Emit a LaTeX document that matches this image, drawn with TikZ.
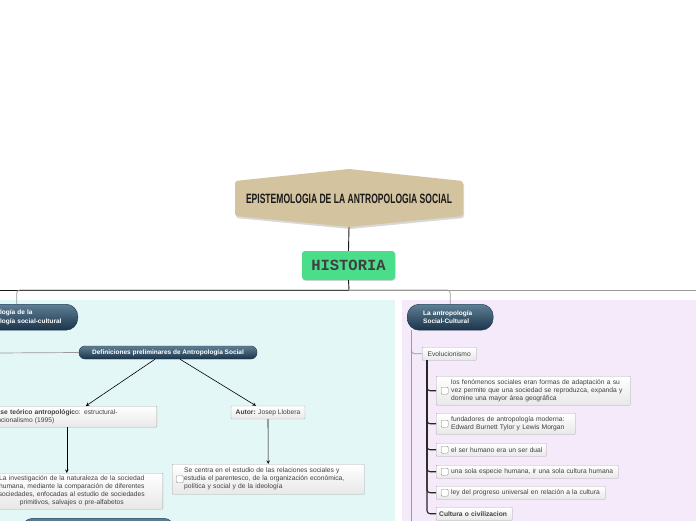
\documentclass[tikz,border=0pt]{standalone}
\usepackage{fontspec}
\setsansfont{Liberation Sans}
\setmonofont{Liberation Mono}
\usetikzlibrary{positioning,calc,shadows}

\definecolor{panelcian}{HTML}{E4F7F7}
\definecolor{panellila}{HTML}{F5EAF9}
\definecolor{arena}{HTML}{D4C39F}
\definecolor{verde}{HTML}{4ADE8B}
\definecolor{pilarriba}{HTML}{5F7F95}
\definecolor{pilabajo}{HTML}{1A344B}

\tikzset{
  pildora/.style={rounded corners=#1, top color=pilarriba, bottom color=pilabajo,
    draw=pilabajo, text=white, inner ysep=0pt,
    font=\sffamily\bfseries\fontsize{6.5}{8.5}\selectfont},
  pildora/.default=12,
  tarjeta/.style={draw=black!35, top color=white, bottom color=black!9,
    text=black!75, font=\sffamily\fontsize{6.7}{8}\selectfont,
    inner xsep=3pt, inner ysep=2pt, align=left, rounded corners=0.6pt},
  casilla/.style={execute at begin node={\leftskip=#1}},
  casilla/.default=12pt,
  caja/.style={draw=black!45, fill=white, rounded corners=1pt,
    minimum size=7pt, inner sep=0pt},
  titulo/.style={font=\sffamily\bfseries\fontsize{13.5}{15}\selectfont,
    text=black!90, inner sep=0pt},
  historia/.style={rounded corners=3, fill=verde, minimum width=93,
    minimum height=29, text=black!75,
    font=\ttfamily\bfseries\fontsize{15.5}{16}\selectfont,
    drop shadow={shadow xshift=.6pt, shadow yshift=-.8pt, opacity=.3}},
  linea/.style={draw=black!90, line width=0.9pt},
  ramagris/.style={draw=black!40, line width=0.7pt},
  ramanegra/.style={draw=black!85, line width=1.1pt},
  flecha/.style={->, draw=black, line width=0.6pt}
}

\begin{document}
\begin{tikzpicture}[x=1pt,y=-1pt,>=stealth]
  \useasboundingbox (0,0) rectangle (696,520);
  \clip (0,0) rectangle (696,520);
  \fill[white] (0,0) rectangle (696,520);

  % Paneles de fondo
  \fill[panelcian] (0,300) rectangle (395,525);
  \fill[panellila] (402,300) rectangle (700,525);

  % Titulo (hexagono)
  \fill[black!30, opacity=.5, rounded corners=2] (236,183) -- (350,171) -- (464,183)
    -- (464,218) -- (350,229) -- (236,218) -- cycle;
  \fill[arena, rounded corners=2] (235,181) -- (349,169) -- (463,181)
    -- (463,216) -- (349,227) -- (235,216) -- cycle;
  \node[titulo] (tit) at (349,198.5)
    {\resizebox{206pt}{\height}{EPISTEMOLOGIA DE LA ANTROPOLOGIA SOCIAL}};
  \coordinate (titbase) at (349,227);

  \node[historia] (hist) at (348.5,265.5) {HISTORIA};
  \draw[linea] (titbase) -- (hist.north);

  % Linea principal
  \coordinate (bus) at (349,290);
  \coordinate (busizq) at (-5,290);
  \coordinate (busder) at (701,290);
  \draw[linea] (hist.south) -- (bus);

  % Ramas principales
  \node[pildora, anchor=north east, minimum height=26, text width=87,
    inner xsep=16pt, align=left] (antrop) at (78,304)
    {Antropología de la\\Antropología social-cultural};
  \node[pildora, anchor=north west, minimum height=26, text width=54,
    inner xsep=16pt, align=left] (antsoc) at (407,304)
    {La antropología\\Social-Cultural};
  \draw[linea] (bus) -- (busizq);
  \draw[ramagris] (bus) -- (busder);
  \draw[ramagris, rounded corners=3] (bus) -| ([xshift=-1.5pt]antrop.north);
  \draw[ramagris, rounded corners=3] (bus) -| (antsoc.north);

  % Lado izquierdo
  \node[pildora=6, minimum width=178, minimum height=13] (defs) at (168,352.5)
    {Definiciones preliminares de Antropología Social};
  \coordinate (defizq) at (-5,353);
  \draw[ramagris] (defizq) -- (defs.west);

  \node[tarjeta, anchor=north east, text width=162, minimum height=21] (base) at (157,406)
    {\textbf{Base teórico antropológic}o: estructural-\\funcionalismo (1995)};
  \node[tarjeta, anchor=north east, text width=176, align=center, minimum height=36]
    (invest) at (163,473)
    {La investigación de la naturaleza de la sociedad\\humana, mediante la comparación de diferentes\\sociedades, enfocadas al estudio de sociedades\\primitivos, salvajes o pre-alfabetos};
  \node[pildora, anchor=north west, minimum width=154, minimum height=26] (abajo) at (21,518) {};

  \node[tarjeta, align=center, minimum width=74, minimum height=13] (autor) at (268,412.5)
    {\textbf{Autor:} Josep Llobera};
  \node[tarjeta, casilla=9pt, anchor=north west, text width=186, minimum height=30]
    (centra) at (172,464)
    {Se centra en el estudio de las relaciones sociales y\\estudia el parentesco, de la organización económica,\\política y social y de la ideología};
  \node[caja, right=4pt of centra.west] (c0) {};

  \draw[flecha] ([xshift=-13pt]defs.south) -- ([xshift=13pt]base.north);
  \draw[flecha] ([xshift=12pt]defs.south) -- ([xshift=-12pt]autor.north);
  \draw[flecha] ([xshift=-6pt]base.south) -- ([xshift=-5pt]invest.north);
  \draw[flecha] (autor) -- (centra);

  % Lado derecho
  \coordinate (tronco) at (411.5,330);
  \coordinate (tronfin) at (411.5,525);
  \draw[ramagris] (tronco) -- (tronfin);
  \node[tarjeta, anchor=north west, minimum width=54, minimum height=13] (evol) at (422,347)
    {Evolucionismo};
  \draw[ramagris, rounded corners=3] (tronco) |- (evol.west);

  \node[tarjeta, casilla, anchor=north west, text width=188, minimum height=29] (f1) at (436,376)
    {los fenómenos sociales eran formas de adaptación a su\\vez permite que una sociedad se reproduzca, expanda y\\domine una mayor área geográfica};
  \node[tarjeta, casilla, anchor=north west, text width=133, minimum height=21] (f2) at (436,413)
    {fundadores de antropología moderna:\\Edward Burnett Tylor y Lewis Morgan};
  \node[tarjeta, casilla, anchor=north west, text width=104, minimum height=13] (f3) at (436,443)
    {el ser humano era un ser dual};
  \node[tarjeta, casilla, anchor=north west, text width=176, minimum height=13] (f4) at (436,465)
    {una sola especie humana, ir una sola cultura humana};
  \node[tarjeta, casilla, anchor=north west, text width=163, minimum height=13] (f5) at (436,486)
    {ley del progreso universal en relación a la cultura};
  \node[tarjeta, anchor=north west, text width=70, minimum height=13] (f6) at (436,507)
    {\textbf{Cultura o civilizacion}};

  \foreach \f in {f1,f2,f3,f4,f5}
    \node[caja, right=5pt of \f.west] (c\f) {};

  \coordinate (evtronco) at ([xshift=5pt]evol.south west);
  \foreach \f in {f1,f2,f3,f4,f5,f6}
    \draw[ramanegra, rounded corners=3] (evtronco) |- (\f.west);

\end{tikzpicture}
\end{document}
